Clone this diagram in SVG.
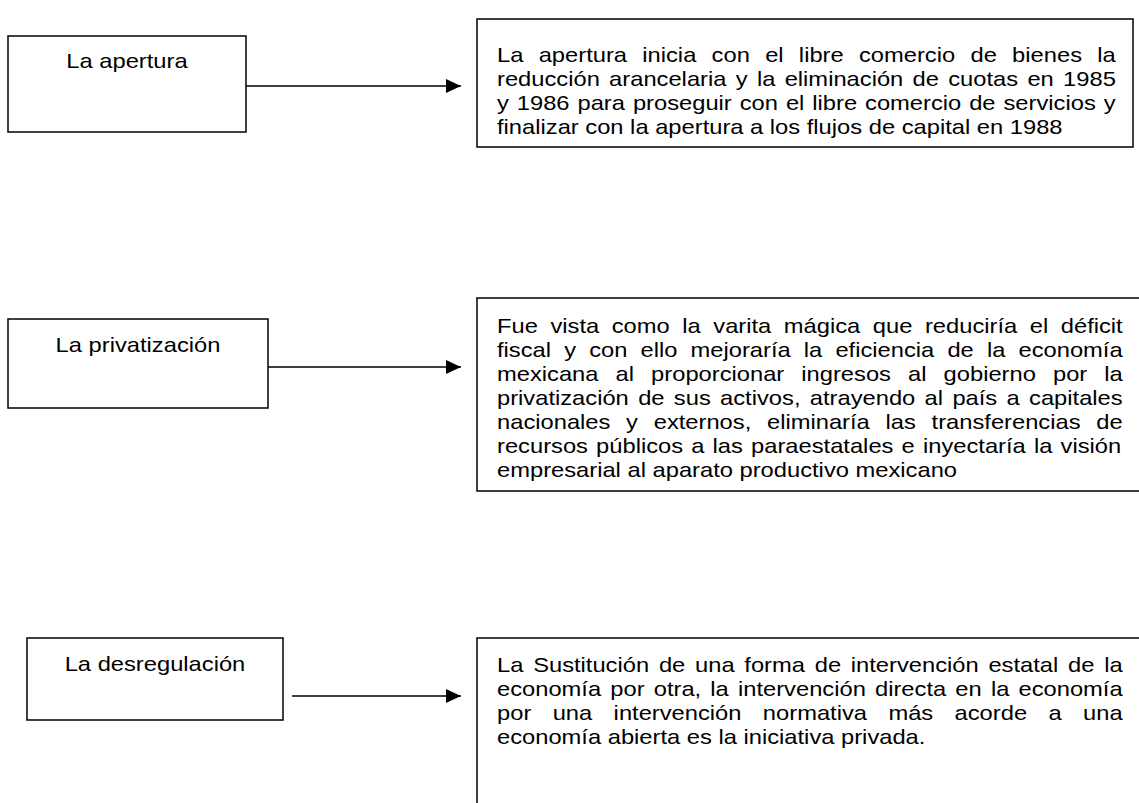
<svg xmlns="http://www.w3.org/2000/svg" width="1139" height="803" viewBox="0 0 1139 803">
<style>
.box{fill:#fff;stroke:#000;stroke-width:1.5}
.lbl{font-family:"Liberation Sans",Arial,sans-serif;font-size:21px;fill:#000;text-anchor:middle}
.body{font-family:"Liberation Sans",Arial,sans-serif;font-size:21px;fill:#000}
.conn{stroke:#000;stroke-width:1.5;fill:none}
</style>
<defs>
<marker id="arrow" viewBox="0 0 15 14" refX="15" refY="7" markerWidth="15" markerHeight="14" markerUnits="userSpaceOnUse" orient="auto">
<path d="M0,0 L15,7 L0,14 Z" fill="#000"/>
</marker>
</defs>
<rect width="1139" height="803" fill="#fff"/>

<g id="node-apertura">
<rect class="box" x="8" y="36" width="238" height="96"/>
<text class="lbl" x="127" y="68" transform="translate(127 0) scale(1.13 1) translate(-127 0)">La apertura</text>
</g>
<g id="node-privatizacion">
<rect class="box" x="8" y="319" width="260" height="89"/>
<text class="lbl" x="138" y="352" transform="translate(138 0) scale(1.13 1) translate(-138 0)">La privatización</text>
</g>
<g id="node-desregulacion">
<rect class="box" x="27" y="638" width="256" height="82"/>
<text class="lbl" x="155" y="671" transform="translate(155 0) scale(1.13 1) translate(-155 0)">La desregulación</text>
</g>

<g id="node-apertura-desc">
<rect class="box" x="477" y="19" width="656" height="128"/>
<g transform="translate(497 0) scale(1.13 1)">
<text class="body" x="0" y="62" word-spacing="7.7">La apertura inicia con el libre comercio de bienes la</text>
<text class="body" x="0" y="86" word-spacing="2.4">reducción arancelaria y la eliminación de cuotas en 1985</text>
<text class="body" x="0" y="110" word-spacing="1.2">y 1986 para proseguir con el libre comercio de servicios y</text>
<text class="body" x="0" y="134">finalizar con la apertura a los flujos de capital en 1988</text>
</g>
</g>

<g id="node-privatizacion-desc">
<rect class="box" x="477" y="298" width="670" height="193"/>
<g transform="translate(497 0) scale(1.13 1)">
<text class="body" x="0" y="333" word-spacing="5.28">Fue vista como la varita mágica que reduciría el déficit</text>
<text class="body" x="0" y="357" word-spacing="5.79">fiscal y con ello mejoraría la eficiencia de la economía</text>
<text class="body" x="0" y="381" word-spacing="9.29">mexicana al proporcionar ingresos al gobierno por la</text>
<text class="body" x="0" y="405" word-spacing="2.43">privatización de sus activos, atrayendo al país a capitales</text>
<text class="body" x="0" y="429" word-spacing="8.1">nacionales y externos, eliminaría las transferencias de</text>
<text class="body" x="0" y="453" word-spacing="1.39">recursos públicos a las paraestatales e inyectaría la visión</text>
<text class="body" x="0" y="477">empresarial al aparato productivo mexicano</text>
</g>
</g>

<g id="node-desregulacion-desc">
<rect class="box" x="477" y="638" width="670" height="180"/>
<g transform="translate(497 0) scale(1.13 1)">
<text class="body" x="0" y="672" word-spacing="2.8">La Sustitución de una forma de intervención estatal de la</text>
<text class="body" x="0" y="696" word-spacing="2.28">economía por otra, la intervención directa en la economía</text>
<text class="body" x="0" y="720" word-spacing="13.1">por una intervención normativa más acorde a una</text>
<text class="body" x="0" y="744">economía abierta es la iniciativa privada.</text>
</g>
</g>

<g id="connectors">
<line class="conn" x1="246" y1="86" x2="461" y2="86" marker-end="url(#arrow)"/>
<line class="conn" x1="268" y1="367" x2="461" y2="367" marker-end="url(#arrow)"/>
<line class="conn" x1="292" y1="696" x2="461" y2="696" marker-end="url(#arrow)"/>
</g>
</svg>
